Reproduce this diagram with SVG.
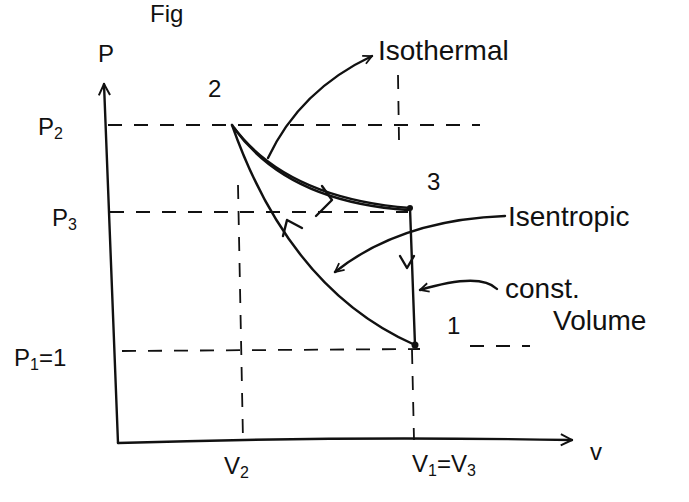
<svg xmlns="http://www.w3.org/2000/svg" width="689" height="502" viewBox="0 0 689 502">
<style>
.ln{fill:none;stroke:#111;stroke-width:2.4;stroke-linecap:round;stroke-linejoin:round}
.ds{fill:none;stroke:#111;stroke-width:1.8;stroke-dasharray:14 12}
.tx{font-family:"Liberation Sans",Arial,sans-serif;font-size:28px;fill:#111}
.lab{font-family:"Liberation Sans",Arial,sans-serif;font-size:24px;fill:#111}
</style>
<defs>
<marker id="ah" viewBox="0 0 10 10" refX="9" refY="5" markerWidth="11" markerHeight="11" orient="auto" markerUnits="userSpaceOnUse">
<path d="M1,1 L9,5 L1,9" fill="none" stroke="#111" stroke-width="1.6"/>
</marker>
<marker id="ax" viewBox="0 0 10 10" refX="9" refY="5" markerWidth="14" markerHeight="14" orient="auto" markerUnits="userSpaceOnUse">
<path d="M1,1 L9,5 L1,9" fill="none" stroke="#111" stroke-width="1.4"/>
</marker>
</defs>
<rect width="689" height="502" fill="#fff"/>
<text class="lab" x="150" y="22" font-size="20">Fig</text>
<g id="axes">
<path class="ln" d="M118,443 L104,84" marker-end="url(#ax)"/>
<path class="ln" d="M118,443 Q340,436 572,440" marker-end="url(#ax)"/>
<text class="lab" x="98" y="62">P</text>
<text class="lab" x="590" y="460">v</text>
</g>
<g id="guides">
<path class="ds" d="M108,125 L480,125"/>
<path class="ds" d="M110,212 L408,212"/>
<path class="ds" d="M122,351 L420,349"/>
<path class="ds" d="M470,346 L530,346" stroke-dasharray="60 0"/>
<path class="ds" d="M238,185 L243,440"/>
<path class="ds" d="M398,75 L399,140"/>
<path class="ds" d="M412,350 L414,440"/>
</g>
<g id="labels">
<text class="lab" x="38" y="135">P<tspan font-size="16" dy="4">2</tspan></text>
<text class="lab" x="52" y="226">P<tspan font-size="16" dy="4">3</tspan></text>
<text class="lab" x="14" y="366">P<tspan font-size="16" dy="4">1</tspan><tspan dy="-4">=1</tspan></text>
<text class="lab" x="224" y="474">V<tspan font-size="16" dy="4">2</tspan></text>
<text class="lab" x="412" y="472">V<tspan font-size="16" dy="4">1</tspan><tspan dy="-4">=V</tspan><tspan font-size="16" dy="4">3</tspan></text>
</g>
<g id="state2"><text class="lab" x="208" y="97">2</text></g>
<g id="state3"><circle cx="410" cy="208" r="3" fill="#111"/><text class="lab" x="427" y="190">3</text></g>
<g id="state1"><circle cx="415" cy="345" r="3.5" fill="#111"/><text class="lab" x="447" y="334">1</text></g>
<g id="connectors">
<path class="ln" d="M232,125 Q285,198 410,208"/>
<path class="ln" d="M234,128 Q287,202 408,210" stroke-width="1.6"/>
<path class="ln" d="M316,216 L332,200 L322,186"/>
<path class="ln" d="M415,345 Q290,290 232,125"/>
<path class="ln" d="M283,236 L287,220 L302,228"/>
<path class="ln" d="M410,208 L415,345"/>
<path class="ln" d="M400,256 L407,268 L414,256"/>
<path class="ln" d="M268,158 Q300,90 372,56" marker-end="url(#ah)" stroke-width="2"/>
<path class="ln" d="M505,216 Q400,220 335,272" marker-end="url(#ah)" stroke-width="2"/>
<path class="ln" d="M497,289 Q480,272 420,290" marker-end="url(#ah)" stroke-width="2"/>
</g>
<g id="notes">
<text class="tx" x="378" y="60">Isothermal</text>
<text class="tx" x="508" y="226">Isentropic</text>
<text class="tx" x="505" y="298">const.</text>
<text class="tx" x="553" y="330">Volume</text>
</g>
</svg>
